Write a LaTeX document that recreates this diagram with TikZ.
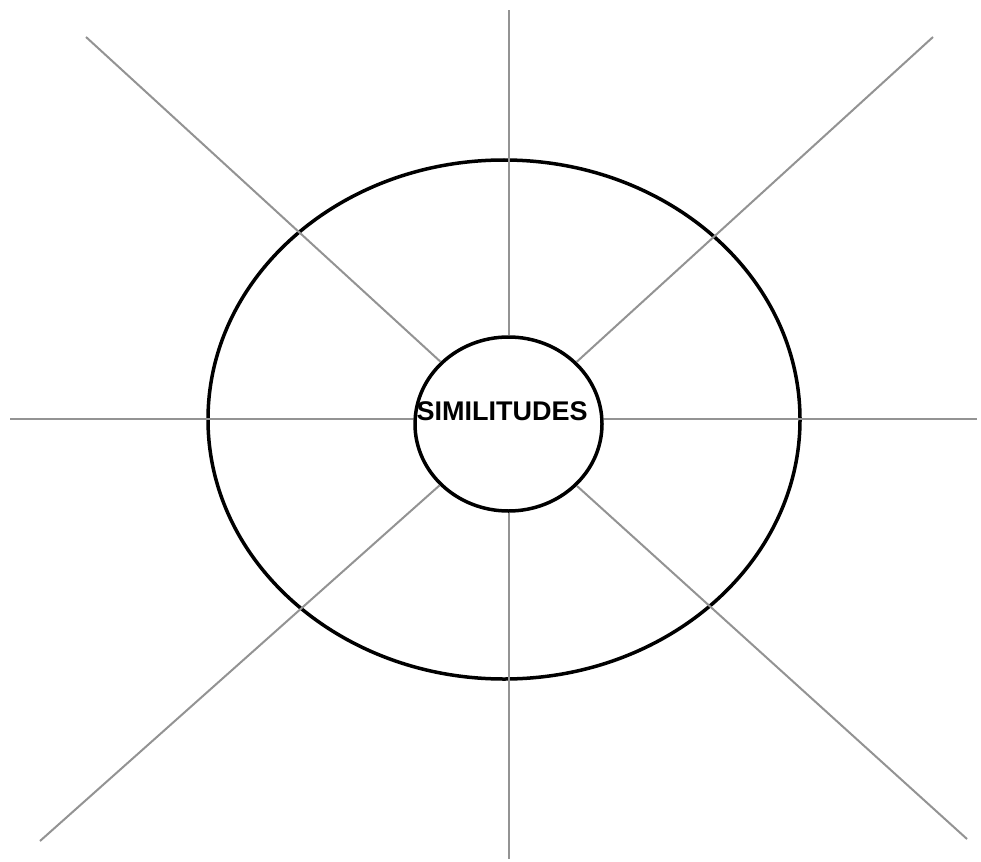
\documentclass[tikz,border=0pt]{standalone}
\usepackage{fontspec}
\usepackage{xcolor}
\usepackage{tikz}
\usetikzlibrary{shapes.geometric}
\newfontfamily\hubfont{Liberation Sans}

\begin{document}
\begin{tikzpicture}[x=1pt,y=-1pt,line join=round,
    spoke/.style={line width=2pt,gray!85},
    ring/.style={ellipse,draw,line width=3.5pt,inner sep=0pt}]
  \useasboundingbox (0,0) rectangle (981,861);
  \coordinate (N) at (508.5,10);
  \coordinate (S) at (508.5,859);
  \coordinate (W) at (10,419);
  \coordinate (E) at (977,419);
  \coordinate (NW) at (86,37);
  \coordinate (NE) at (933,37);
  \coordinate (SW) at (40,841);
  \coordinate (SE) at (967,839);
  \node[ring,minimum width=592,minimum height=519] (outer) at (504,419.5) {};
  \node[ring,fill=white,minimum width=187,minimum height=174] (hub) at (508.5,424) {};
  \draw[spoke] (hub) -- (N);
  \draw[spoke] (hub) -- (S);
  \draw[spoke] (W -| hub.west) -- (W);
  \draw[spoke] (E -| hub.east) -- (E);
  \draw[spoke] (hub) -- (NW);
  \draw[spoke] (hub) -- (NE);
  \draw[spoke] (hub) -- (SW);
  \draw[spoke] (hub) -- (SE);
  \node[font=\hubfont\bfseries\fontsize{27}{30}\selectfont,inner sep=0pt] (hubtext) at (502,411) {SIMILITUDES};
\end{tikzpicture}
\end{document}
